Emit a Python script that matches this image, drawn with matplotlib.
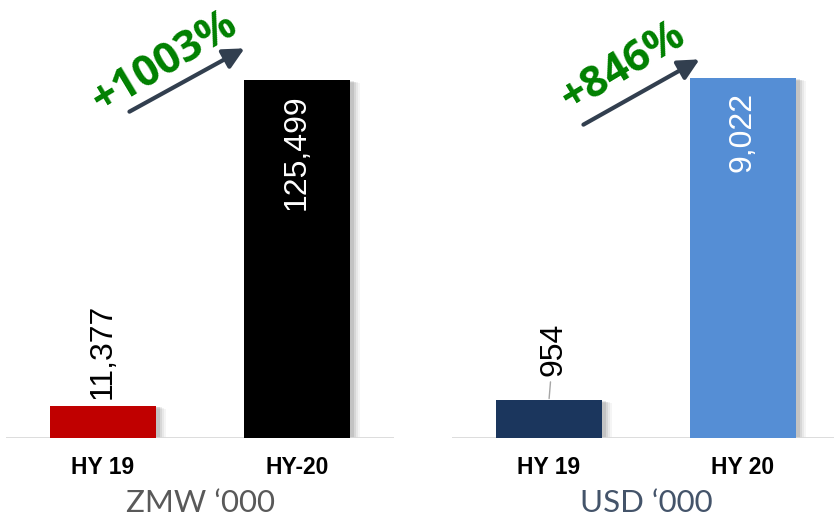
import matplotlib
matplotlib.use("Agg")
import matplotlib.pyplot as plt
from matplotlib.patches import Rectangle, FancyArrowPatch

# Data
periods_zmw = ["HY 19", "HY-20"]
values_zmw = [11377, 125499]
periods_usd = ["HY 19", "HY 20"]
values_usd = [954, 9022]

colors_zmw = ["#C00000", "#000000"]
colors_usd = ["#1B365D", "#558ED5"]

W, H = 834, 521
fig = plt.figure(figsize=(W / 100, H / 100), dpi=100)
fig.patch.set_facecolor("white")


def fx(px):
    return px / W


def fy(py):
    return 1 - py / H


BASE = 438     # baseline (pixels from top)
TOP = 40       # axes top (pixels from top)


def panel(left_px, periods, values, colors, bar_top_px):
    ax = fig.add_axes([fx(left_px), fy(BASE), 388 / W, (BASE - TOP) / H])
    ymax = max(values) * (BASE - TOP) / (BASE - bar_top_px)
    ax.set_xlim(-0.5, 1.5)
    ax.set_ylim(0, ymax)
    x = range(len(values))
    width = 0.545
    # soft drop shadow
    for i, v in enumerate(values):
        for k, a in zip([5, 4, 3, 2], [0.04, 0.05, 0.07, 0.09]):
            dx = k * 2 / 194
            dy = k * ymax / (BASE - TOP) * 0.6
            ax.add_patch(Rectangle((i - width / 2 + dx, -dy), width, v,
                                   facecolor="#000000", alpha=a,
                                   edgecolor="none", zorder=1))
    ax.bar(x, values, width=width, color=colors, zorder=3)
    ax.axhline(0, color="#D9D9D9", lw=2, zorder=2)
    for s in ax.spines.values():
        s.set_visible(False)
    ax.set_yticks([])
    ax.set_xticks(list(x))
    ax.set_xticklabels(periods, fontsize=16.5, fontweight="bold",
                       family="Liberation Sans")
    ax.tick_params(axis="x", length=0, pad=13)
    ax.patch.set_alpha(0)
    return ax


ax1 = panel(6, periods_zmw, values_zmw, colors_zmw, 80)
ax2 = panel(452, periods_usd, values_usd, colors_usd, 78)

lab_font = dict(family="Liberation Sans", fontsize=23, rotation=90)

# value labels, left panel
ax1.annotate(f"{values_zmw[0]:,}", (0, values_zmw[0]), xytext=(0, 5),
             textcoords="offset points", ha="center", va="bottom",
             color="#000000", **lab_font, zorder=5)
ax1.annotate(f"{values_zmw[1]:,}", (1, values_zmw[1]), xytext=(0, -10),
             textcoords="offset points", ha="center", va="top",
             color="white", **lab_font, zorder=5)

# value labels, right panel
ax2.annotate(f"{values_usd[0]:,}", (0, values_usd[0]), xytext=(3, 17),
             textcoords="offset points", ha="center", va="bottom",
             color="#000000", **lab_font, zorder=5,
             arrowprops=dict(arrowstyle="-", color="#A6A6A6", lw=1,
                             shrinkA=2, shrinkB=1))
ax2.annotate(f"{values_usd[1]:,}", (1, values_usd[1]), xytext=(0, -10),
             textcoords="offset points", ha="center", va="top",
             color="white", **lab_font, zorder=5)

# growth arrows and percentages
growth_zmw = (values_zmw[1] / values_zmw[0] - 1) * 100
growth_usd = (values_usd[1] / values_usd[0] - 1) * 100

arrow_kw = dict(arrowstyle="-|>,head_length=0.9,head_width=0.45",
                color="#323F4F", lw=3)
fig.add_artist(FancyArrowPatch(
    (fx(127), fy(113)), (fx(247), fy(47)), transform=fig.transFigure,
    mutation_scale=14, **arrow_kw))
fig.add_artist(FancyArrowPatch(
    (fx(581), fy(126)), (fx(702), fy(58)), transform=fig.transFigure,
    mutation_scale=14, **arrow_kw))

pct_font = dict(family="Open Sans", fontweight="bold", fontsize=31,
                color="#008000", rotation=31, rotation_mode="anchor",
                ha="center", va="center")
fig.text(fx(164), fy(63), f"+{growth_zmw:.0f}%", **pct_font)
fig.text(fx(623), fy(67), f"+{growth_usd:.0f}%", **pct_font)

# currency captions
fig.text(fx(200), fy(503), "ZMW \u2018000", ha="center", va="center",
         fontsize=22.5, color="#595959", family="Lato")
fig.text(fx(646), fy(503), "USD \u2018000", ha="center", va="center",
         fontsize=22.5, color="#44546A", family="Lato")

fig.savefig("out.png", dpi=100, facecolor="white")
